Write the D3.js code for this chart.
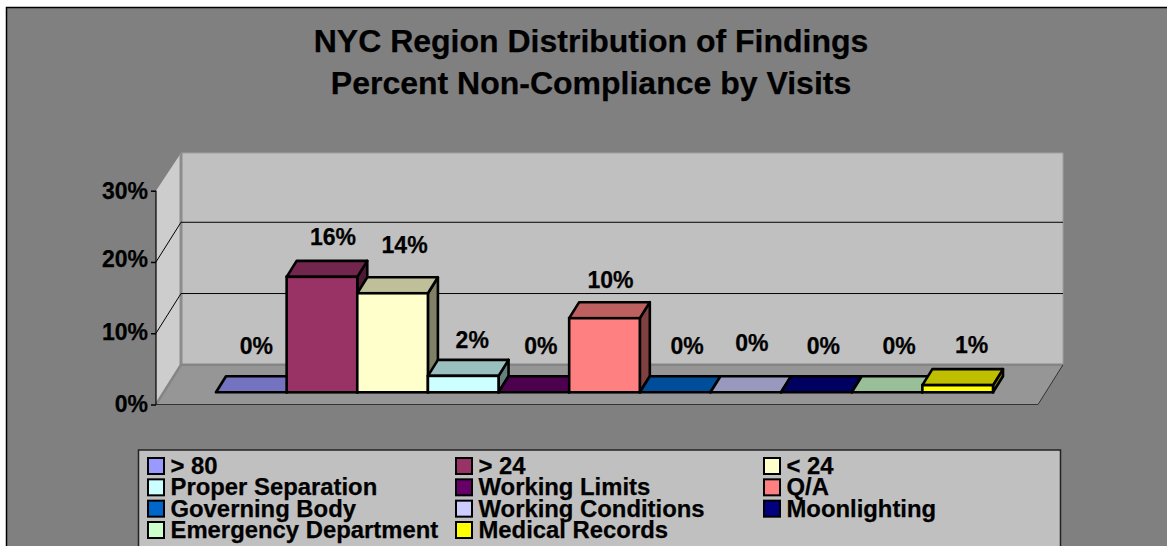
<!DOCTYPE html>
<html><head><meta charset="utf-8">
<style>html,body{margin:0;padding:0;background:#fff}svg{display:block}text{font-family:"Liberation Sans",Arial,sans-serif;font-weight:bold;fill:#000;stroke:#000;stroke-width:.25px}</style>
<script src="https://cdn.jsdelivr.net/npm/d3@7/dist/d3.min.js"></script></head><body>
<script>
const categories=["> 80","> 24","< 24","Proper Separation","Working Limits","Q/A","Governing Body","Working Conditions","Moonlighting","Emergency Department","Medical Records"];
const values=[0,16.2,13.9,2.3,0,10.4,0,0,0,0,1];
const valueLabels=["0%","16%","14%","2%","0%","10%","0%","0%","0%","0%","1%"];
const colors=["#9999FF","#993366","#FFFFCC","#CCFFFF","#660066","#FF8080","#0066CC","#CCCCFF","#000080","#CCFFCC","#FFFF00"];
const yTicks=[0,10,20,30];
const titleLines=["NYC Region Distribution of Findings","Percent Non-Compliance by Visits"];
// hand-placed label nudges, as in the source chart
const labelNudgeX=[5,11,12,9,7,6,12,6,7,12,14];
const labelNudgeY=[1,0,-8,4,1,2,1,-2,1,1,0];
const tickNudgeY=[-1,-2,-3,0];

const W=1167,H=546;
const svg=d3.select("body").append("svg").attr("width",W).attr("height",H);
svg.append("rect").attr("width",W).attr("height",H).attr("fill","#fff");
svg.append("rect").attr("x",6).attr("y",7).attr("width",W-6).attr("height",H-7).attr("fill","#808080");
svg.append("path").attr("d",`M6.5,${H}V7.5H${W}`).attr("fill","none").attr("stroke","#000").attr("stroke-width",1.5);

const y=d3.scaleLinear().domain([0,30]).range([404.5,190.7]);
const wallDx=25,wallDy=-39.7,wallTopInset=2;
const xFront=d3.scaleLinear().domain([0,1]).range([156,1038]);
const P=(pts)=>"M"+pts.map(p=>p.join(",")).join("L")+"Z";
const g=svg.append("g");
const topY=y(30)+wallDy+wallTopInset, floorY=y(0)+wallDy;
const bx0=xFront(0)+wallDx,bx1=xFront(1)+wallDx;
// side wall, floor, back wall
g.append("path").attr("d",P([[xFront(0),y(0)],[xFront(0),y(30)],[bx0,topY],[bx0,floorY]])).attr("fill","#CDCDCD");
g.append("path").attr("d",P([[xFront(1),y(0)],[xFront(0),y(0)],[bx0,floorY],[bx1,floorY]])).attr("fill","#969696");
g.append("rect").attr("x",bx0).attr("y",topY).attr("width",bx1-bx0).attr("height",floorY-topY).attr("fill","#C0C0C0");
// wall edges
g.append("path").attr("d",`M${bx0},${topY}H${bx1}V${floorY}`).attr("fill","none").attr("stroke","#a0a0a0").attr("stroke-width",1);
g.append("path").attr("d",`M${bx0},${topY}V${floorY}`).attr("fill","none").attr("stroke","#8c8c8c").attr("stroke-width",3);
g.append("path").attr("d",`M${xFront(0)},${y(0)}L${bx0},${floorY}H${bx1}`).attr("fill","none").attr("stroke","#858585").attr("stroke-width",2.5);
// gridlines
yTicks.filter(t=>t>0&&t<30).forEach(t=>{
  g.append("path").attr("d",`M${xFront(0)},${y(t)}L${bx0},${y(t)+wallDy}H${bx1}`).attr("fill","none").attr("stroke","#000").attr("stroke-width",1);
});
// floor front + right edges, axis
g.append("path").attr("d",`M${xFront(0)},${y(0)}H${xFront(1)}L${bx1},${floorY}`).attr("fill","none").attr("stroke","#333").attr("stroke-width",1);
g.append("path").attr("d",`M${xFront(0)},${y(30)}V${y(0)}`).attr("stroke","#000").attr("stroke-width",1.2);

// y axis via d3 axis
const axis=d3.axisLeft(y).tickValues(yTicks).tickFormat(d=>d+"%").tickSize(5).tickSizeOuter(0);
const ax=svg.append("g").attr("transform",`translate(${xFront(0)},0)`).call(axis);
ax.select(".domain").remove();
ax.selectAll("line").attr("stroke","#000").attr("stroke-width",1.5);
ax.selectAll("text").attr("font-size",23).attr("x",-8).attr("y",(d,i)=>tickNudgeY[i]).attr("dy","0.34em").style("font-family",'"Liberation Sans"').style("font-weight","bold");

// bars
const x=d3.scaleBand().domain(categories).range([216,993]).padding(0);
const barBase=392.3,barDx=10,barDy=-16;
const barY=v=>barBase-(y(0)-y(v));
const shade=(c,k)=>{const q=d3.rgb(c);return d3.rgb(q.r*k,q.g*k,q.b*k).formatHex();};
const bars=svg.append("g").selectAll("g").data(categories).join("g");
bars.each(function(c,i){
  const s=d3.select(this),l=x(c),r=l+x.bandwidth(),t=barY(values[i]),b=barBase;
  const sw=2.6,st="#000";
  s.append("path").attr("d",P([[r,b],[r,t],[r+barDx,t+barDy],[r+barDx,b+barDy]])).attr("fill",shade(colors[i],.5)).attr("stroke",st).attr("stroke-width",sw).attr("stroke-linejoin","round");
  s.append("path").attr("d",P([[l,t],[r,t],[r+barDx,t+barDy],[l+barDx,t+barDy]])).attr("fill",shade(colors[i],.75)).attr("stroke",st).attr("stroke-width",sw).attr("stroke-linejoin","round");
  s.append("rect").attr("x",l).attr("y",t).attr("width",x.bandwidth()).attr("height",b-t).attr("fill",colors[i]).attr("stroke",st).attr("stroke-width",sw);
});
// value labels
svg.append("g").selectAll("text").data(categories).join("text")
  .attr("x",(c,i)=>x(c)+x.bandwidth()/2+labelNudgeX[i])
  .attr("y",(c,i)=>barY(values[i])-(values[i]>0?32:39)+labelNudgeY[i])
  .attr("text-anchor","middle").attr("font-size",23).text((c,i)=>valueLabels[i]);

// title
svg.append("g").selectAll("text").data(titleLines).join("text")
  .attr("x",591).attr("y",(d,i)=>52+i*42).attr("text-anchor","middle").attr("font-size",32).text(d=>d);

// legend
svg.append("rect").attr("x",138.5).attr("y",450).attr("width",922).attr("height",110).attr("fill","#C0C0C0").attr("stroke","#222").attr("stroke-width",1.5);
const legendCols=d3.scalePoint().domain([0,1,2]).range([148,764]);
const legendRows=d3.scalePoint().domain([0,1,2,3]).range([466,530]);
const lg=svg.append("g").selectAll("g").data(categories).join("g")
  .attr("transform",(c,i)=>`translate(${legendCols(i%3)},${legendRows(Math.floor(i/3))})`);
lg.append("rect").attr("x",0).attr("y",-8).attr("width",16).attr("height",16).attr("fill",(c,i)=>colors[i]).attr("stroke","#000").attr("stroke-width",2);
lg.append("text").attr("x",22.5).attr("y",8).attr("font-size",23.85).text(c=>c);
</script></body></html>
